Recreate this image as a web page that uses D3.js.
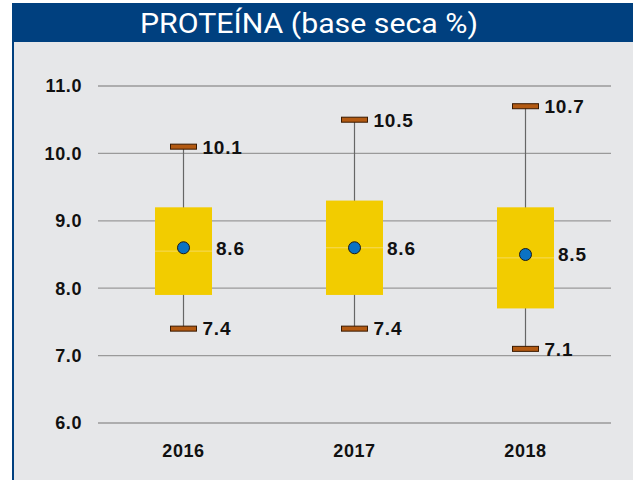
<!DOCTYPE html>
<html>
<head>
<meta charset="utf-8">
<script src="https://cdn.jsdelivr.net/npm/d3@7"></script>
<style>
  body { margin: 0; background: #fff; }
  svg text { font-family: "Liberation Sans", Arial, sans-serif; }
</style>
</head>
<body>
<div id="chart"></div>
<script>
// data
const years = ["2016", "2017", "2018"];
const maxVals = [10.1, 10.5, 10.7];
const q3Vals = [9.2, 9.3, 9.2];
const medianVals = [8.55, 8.6, 8.45];
const q1Vals = [7.9, 7.9, 7.7];
const minVals = [7.4, 7.4, 7.1];
const meanVals = [8.6, 8.6, 8.5];
const yTicks = [6, 7, 8, 9, 10, 11];

const width = 633, height = 480;

const svg = d3.select("#chart").append("svg")
  .attr("width", width).attr("height", height);

// frame + header
svg.append("rect").attr("x", 12).attr("y", 3).attr("width", 621).attr("height", 477)
  .attr("fill", "#e6e7e9");
svg.append("rect").attr("x", 12).attr("y", 3).attr("width", 2).attr("height", 477)
  .attr("fill", "#00407f");
svg.append("rect").attr("x", 12).attr("y", 3).attr("width", 621).attr("height", 39)
  .attr("fill", "#00407f");
svg.append("text")
  .attr("x", 309).attr("y", 33)
  .attr("text-anchor", "middle")
  .attr("fill", "white")
  .style("font-family", "Roboto, sans-serif")
  .style("font-size", "27px")
  .attr("textLength", 338)
  .attr("lengthAdjust", "spacingAndGlyphs")
  .text("PROTEÍNA (base seca %)");

// scales
const x = d3.scaleBand().domain(years).range([98, 611]);
const y = d3.scaleLinear().domain([6, 11]).range([423, 86]);

// grid
svg.selectAll(".grid").data(yTicks).enter().append("line")
  .attr("x1", 98).attr("x2", 611)
  .attr("y1", d => y(d)).attr("y2", d => y(d))
  .attr("stroke", "#9a9a9a").attr("stroke-width", 1.3);

svg.selectAll(".ytick").data(yTicks).enter().append("text")
  .attr("x", 82).attr("y", d => y(d)).attr("dy", "0.36em")
  .attr("text-anchor", "end")
  .style("font-size", "18px").style("font-weight", "bold")
  .style("letter-spacing", "0.6px")
  .attr("fill", "#111")
  .text(d => d3.format(".1f")(d));

svg.selectAll(".xtick").data(years).enter().append("text")
  .attr("x", d => x(d) + x.bandwidth() / 2).attr("y", 451).attr("dy", "0.36em")
  .attr("text-anchor", "middle")
  .style("font-size", "18px").style("font-weight", "bold")
  .style("letter-spacing", "0.6px")
  .attr("fill", "#111")
  .text(d => d);

const boxW = 57, capW = 26, capH = 5;
const cx = i => x(years[i]) + x.bandwidth() / 2;

const g = svg.append("g");
years.forEach((yr, i) => {
  const c = cx(i);
  // whisker
  g.append("line").attr("x1", c).attr("x2", c)
    .attr("y1", y(maxVals[i])).attr("y2", y(minVals[i]))
    .attr("stroke", "#666").attr("stroke-width", 1.2);
  // box
  g.append("rect").attr("x", c - boxW / 2).attr("width", boxW)
    .attr("y", y(q3Vals[i])).attr("height", y(q1Vals[i]) - y(q3Vals[i]))
    .attr("fill", "#f2cc00");
  g.append("line").attr("x1", c - boxW / 2).attr("x2", c + boxW / 2)
    .attr("y1", y(medianVals[i])).attr("y2", y(medianVals[i]))
    .attr("stroke", "#f6da5c").attr("stroke-width", 1);
  // caps
  [maxVals[i], minVals[i]].forEach(v => {
    g.append("rect").attr("x", c - capW / 2).attr("y", y(v) - capH / 2)
      .attr("width", capW).attr("height", capH)
      .attr("fill", "#b35a12").attr("stroke", "#3a1a00").attr("stroke-width", 1);
    g.append("text").attr("x", c + capW / 2 + 6).attr("y", y(v)).attr("dy", "0.36em")
      .style("font-size", "19px").style("font-weight", "bold")
      .style("letter-spacing", "0.8px").attr("fill", "#111")
      .text(d3.format(".1f")(v));
  });
  // mean
  g.append("circle").attr("cx", c).attr("cy", y(meanVals[i])).attr("r", 6)
    .attr("fill", "#0a72c4").attr("stroke", "#1a1a1a").attr("stroke-width", 1);
  g.append("text").attr("x", c + boxW / 2 + 4).attr("y", y(meanVals[i])).attr("dy", "0.36em")
    .style("font-size", "19px").style("font-weight", "bold")
    .style("letter-spacing", "0.8px").attr("fill", "#111")
    .text(d3.format(".1f")(meanVals[i]));
});
</script>
</body>
</html>
